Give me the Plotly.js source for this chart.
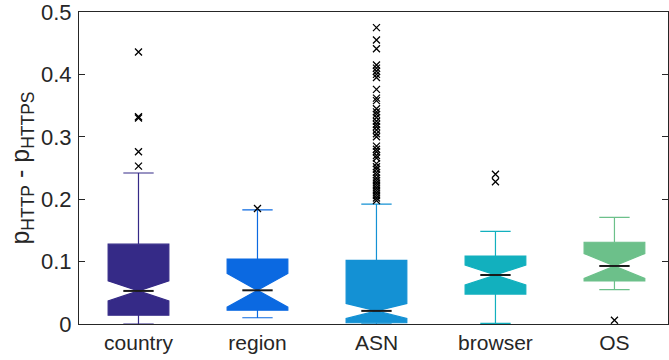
<!DOCTYPE html>
<html>
<head>
<meta charset="utf-8">
<script src="https://cdn.plot.ly/plotly-3.0.1.min.js"></script>
<style>html,body{margin:0;padding:0;background:#fff}#chart{width:669px;height:360px}</style>
</head>
<body>
<div id="chart"></div>
<script>
const categories = ["country", "region", "ASN", "browser", "OS"];
const colors = ["#352a87", "#0b69e1", "#1491d4", "#12b0be", "#6cc08a"];
const q1Vals = [0.014, 0.022, 0.002, 0.048, 0.069];
const medianVals = [0.053, 0.054, 0.021, 0.0785, 0.093];
const q3Vals = [0.128, 0.104, 0.102, 0.109, 0.131];
const lowerWhisker = [0.0, 0.010, 0.0, 0.001, 0.055];
const upperWhisker = [0.242, 0.183, 0.192, 0.1485, 0.171];
const notchHalf = [0.016, 0.027, 0.012, 0.016, 0.020];
const outliersCountry = [0.436, 0.332, 0.330, 0.276, 0.253];
const outliersRegion = [0.185];
const outliersASN = [0.475, 0.455, 0.441, 0.415, 0.410, 0.405, 0.400, 0.395, 0.376, 0.362, 0.358,
  0.345, 0.340, 0.336, 0.331, 0.325, 0.320, 0.316, 0.311, 0.305, 0.300, 0.285, 0.280, 0.276, 0.270,
  0.266, 0.257, 0.252, 0.248, 0.243, 0.239, 0.234, 0.230, 0.226, 0.222, 0.218, 0.214, 0.210, 0.206,
  0.202, 0.198];
const outliersBrowser = [0.240, 0.228];
const outliersOS = [0.006];
const outliers = [outliersCountry, outliersRegion, outliersASN, outliersBrowser, outliersOS];

const boxWidth = 0.51;
const notchWidth = 0.5;
const positions = categories.map((c, i) => i + 1);
const traces = [];

categories.forEach((c, i) => {
  traces.push({
    type: "box",
    x: [positions[i]],
    q1: [q1Vals[i]],
    median: [medianVals[i]],
    q3: [q3Vals[i]],
    lowerfence: [lowerWhisker[i]],
    upperfence: [upperWhisker[i]],
    notchspan: [notchHalf[i]],
    notched: true,
    notchwidth: notchWidth,
    width: boxWidth,
    whiskerwidth: 0.5,
    boxpoints: false,
    fillcolor: colors[i],
    line: {color: colors[i], width: 1.2},
    showlegend: false,
    hoverinfo: "skip"
  });
});

categories.forEach((c, i) => {
  const hw = boxWidth * notchWidth / 2;
  traces.push({
    type: "scatter",
    mode: "lines",
    x: [positions[i] - hw, positions[i] + hw],
    y: [medianVals[i], medianVals[i]],
    line: {color: "#1a1a1a", width: 2},
    showlegend: false,
    hoverinfo: "skip"
  });
  traces.push({
    type: "scatter",
    mode: "markers",
    x: outliers[i].map(() => positions[i]),
    y: outliers[i],
    marker: {symbol: "x-thin", size: 7, color: "#000", line: {color: "#000", width: 1.3}},
    showlegend: false,
    hoverinfo: "skip"
  });
});

const layout = {
  width: 669,
  height: 360,
  margin: {l: 79, r: 1, t: 12, b: 36},
  paper_bgcolor: "#fff",
  plot_bgcolor: "#fff",
  font: {family: "Liberation Sans, Arial, sans-serif", size: 21, color: "#262626"},
  showlegend: false,
  hovermode: false,
  xaxis: {
    range: [0.5, 5.45],
    tickmode: "array",
    tickvals: positions,
    ticktext: categories,
    showgrid: false,
    zeroline: false,
    showline: true,
    mirror: true,
    linecolor: "#262626",
    linewidth: 1,
    ticks: "",
    ticklabelstandoff: 0,
    tickfont: {size: 21, color: "#262626"}
  },
  yaxis: {
    range: [0, 0.5],
    tickmode: "array",
    tickvals: [0, 0.1, 0.2, 0.3, 0.4, 0.5],
    ticktext: ["0", "0.1", "0.2", "0.3", "0.4", "0.5"],
    showgrid: false,
    zeroline: false,
    showline: true,
    mirror: "ticks",
    linecolor: "#262626",
    linewidth: 1,
    ticks: "inside",
    ticklen: 6,
    tickcolor: "#262626",
    ticklabelstandoff: 2,
    ticklabeloverflow: "allow",
    tickfont: {size: 22, color: "#262626"},
    title: {text: "p<sub>HTTP</sub> - p<sub>HTTPS</sub>", font: {size: 25, color: "#262626"}, standoff: 4}
  }
};

Plotly.newPlot("chart", traces, layout, {displayModeBar: false, staticPlot: true});
</script>
</body>
</html>
